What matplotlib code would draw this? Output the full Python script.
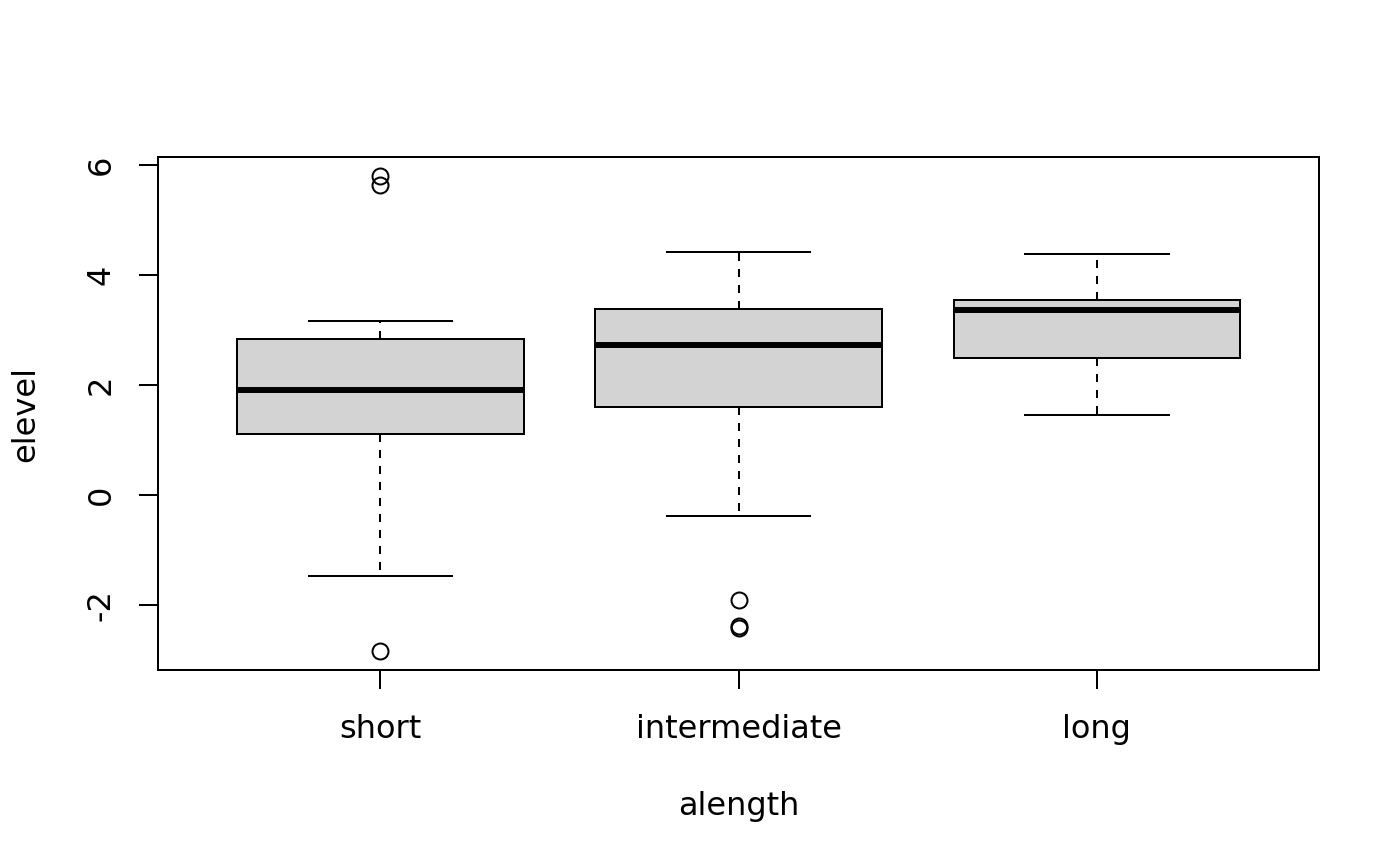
import matplotlib
matplotlib.use("Agg")
import matplotlib.pyplot as plt

# values
categories = ["short", "intermediate", "long"]
q1 = [1.11, 1.60, 2.49]
medians = [1.91, 2.73, 3.36]
q3 = [2.83, 3.39, 3.55]
whislo = [-1.47, -0.38, 1.45]
whishi = [3.16, 4.42, 4.39]
fliers = [[5.80, 5.64, -2.84], [-1.91, -2.38, -2.41], []]
yticks = [-2, 0, 2, 4, 6]

plt.rcParams['font.family'] = ['DejaVu Sans']
plt.rcParams['font.size'] = 23

fig = plt.figure(figsize=(14, 8.66), dpi=100)
ax = fig.add_axes([0.1129, 0.2263, 0.8293, 0.5924])

stats = []
for i, name in enumerate(categories):
    stats.append({
        "label": name,
        "q1": q1[i],
        "med": medians[i],
        "q3": q3[i],
        "whislo": whislo[i],
        "whishi": whishi[i],
        "fliers": fliers[i],
    })

lw = 1.44
ax.bxp(
    stats,
    positions=[1, 2, 3],
    widths=0.8,
    capwidths=0.4,
    patch_artist=True,
    boxprops=dict(facecolor="#d3d3d3", edgecolor="black", linewidth=lw),
    medianprops=dict(color="black", linewidth=4.3, solid_capstyle="butt"),
    whiskerprops=dict(color="black", linewidth=lw, linestyle=(0, (4, 4))),
    capprops=dict(color="black", linewidth=lw),
    flierprops=dict(marker="o", markerfacecolor="none", markeredgecolor="black",
                    markersize=11.5, markeredgewidth=lw),
)

ax.set_xlim(0.38, 3.62)
ax.set_ylim(-3.18, 6.145)
ax.set_yticks(yticks)
ax.set_yticklabels([str(v) for v in yticks], rotation=90, va="center")
ax.set_xticks([1, 2, 3])
ax.set_xticklabels(categories)

for s in ax.spines.values():
    s.set_linewidth(lw)
ax.tick_params(axis="both", length=13.7, width=lw, direction="out")
ax.tick_params(axis="x", pad=18)
ax.tick_params(axis="y", pad=16)

ax.set_xlabel("alength", labelpad=33)
ax.set_ylabel("elevel", labelpad=32)

fig.savefig("out.png", dpi=100)
